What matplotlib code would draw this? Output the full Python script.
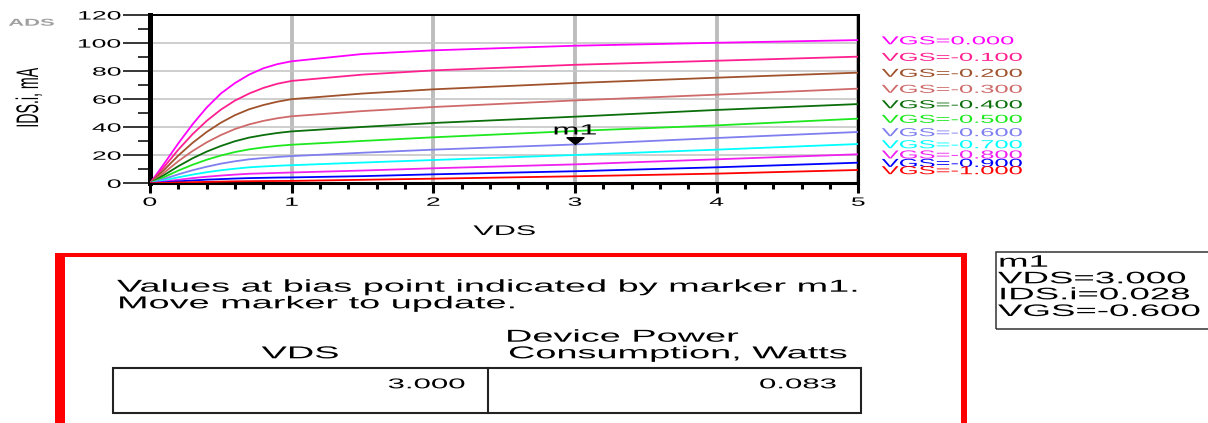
# ADS 仿真结果：FET 的 IDS-VDS 输出特性曲线族 + 偏置点功耗表
import matplotlib
matplotlib.use('Agg')
import matplotlib.pyplot as plt
from matplotlib.patches import Rectangle
from matplotlib.lines import Line2D
from matplotlib.path import Path
from matplotlib.patheffects import AbstractPathEffect
from matplotlib.transforms import Affine2D, ScaledTranslation
from matplotlib.ticker import MultipleLocator

plt.rcParams['font.family'] = ['Liberation Sans', 'DejaVu Sans']

# 扫描数据 (VDS 单位 V, IDS 单位 mA)
vds = [0, 0.1, 0.2, 0.3, 0.4, 0.5, 0.6, 0.7, 0.8, 0.9, 1.0, 1.5, 2.0, 3.0, 4.0, 5.0]
vgs = [0.0, -0.1, -0.2, -0.3, -0.4, -0.5, -0.6, -0.7, -0.8, -0.9, -1.0]
ids_0 = [0, 14, 28.5, 42, 54, 64, 71.5, 77.5, 82, 85, 87, 92.2, 94.8, 98.1, 100.2, 102.1]
ids_1 = [0, 11.7, 24, 35, 44.5, 52.5, 59, 64, 68, 71, 73, 77.5, 80.5, 84.5, 87.4, 90.3]
ids_2 = [0, 9.6, 19.8, 28.8, 36.6, 43.2, 48.6, 52.8, 55.8, 58.2, 60, 64, 67, 71.5, 75.3, 78.9]
ids_3 = [0, 7.6, 15.8, 23, 29.2, 34.4, 38.7, 42, 44.5, 46.4, 47.8, 51.5, 54.4, 59.1, 63.2, 67.5]
ids_4 = [0, 5.9, 12.2, 17.8, 22.6, 26.6, 30, 32.6, 34.4, 35.9, 37, 40.2, 43, 47.5, 52.3, 56.5]
ids_5 = [0, 4.4, 9.1, 13.2, 16.8, 19.8, 22.3, 24.2, 25.6, 26.7, 27.5, 30.2, 32.8, 37.3, 41.3, 46.1]
ids_6 = [0, 3.1, 6.4, 9.3, 11.8, 14, 15.7, 17.1, 18, 18.8, 19.4, 21.8, 24, 27.7, 32.3, 36.6]
ids_7 = [0, 2.1, 4.3, 6.2, 7.9, 9.3, 10.4, 11.4, 12, 12.5, 12.9, 14.8, 16.6, 20.2, 24, 28]
ids_8 = [0, 1.2, 2.5, 3.7, 4.7, 5.5, 6.2, 6.8, 7.1, 7.4, 7.7, 9.1, 10.7, 13.5, 17.1, 20.7]
ids_9 = [0, 0.7, 1.4, 2, 2.6, 3, 3.4, 3.7, 3.9, 4.1, 4.2, 5.1, 6.4, 8.6, 11.4, 14.7]
ids_10 = [0, 0.3, 0.6, 0.8, 1, 1.2, 1.4, 1.5, 1.6, 1.65, 1.7, 2.5, 3.3, 5, 6.9, 9.5]
curves = [ids_0, ids_1, ids_2, ids_3, ids_4, ids_5, ids_6, ids_7, ids_8, ids_9, ids_10]
colors = ['#ff00ff', '#ff2090', '#a0522d', '#cf6a6a', '#0a6e0a', '#1ee81e',
          '#7f7ff0', '#00ffff', '#f020f0', '#0000ff', '#ff0000']

# 标记 m1 所在的偏置点
m1_vds = 3.0
m1_vgs = -0.6
m1_ids = curves[vgs.index(m1_vgs)][vds.index(m1_vds)]  # mA
m1_power = m1_vds * m1_ids / 1000  # W

W, H = 1208, 423
SX = 2.2  # ADS 导出的文字横向拉伸比例


class Widen(AbstractPathEffect):
    """以文字锚点为中心横向拉伸"""
    def __init__(self, text, sx=SX):
        super().__init__()
        self.text = text
        self.sx = sx

    def draw_path(self, renderer, gc, tpath, affine, rgbFace=None):
        cx = self.text.get_transform().transform(self.text.get_position())[0]
        stretch = Affine2D().translate(-cx, 0).scale(self.sx, 1).translate(cx, 0)
        renderer.draw_path(gc, tpath, affine + stretch, rgbFace)


def widen(t, sx=SX):
    t.set_path_effects([Widen(t, sx)])
    return t


def fx(px):
    return px / W


def fy(py):
    return 1 - py / H


fig = plt.figure(figsize=(W / 100, H / 100), dpi=100)
ax = fig.add_axes([fx(150), fy(183.3), (858.3 - 150) / W, (183.3 - 15) / H])

for ids, c in zip(curves, colors):
    ax.plot(vds, ids, color=c, lw=1.3, solid_joinstyle='round', zorder=3)

ax.set_xlim(0, 5)
ax.set_ylim(0, 120)
ax.xaxis.set_major_locator(MultipleLocator(1))
ax.xaxis.set_minor_locator(MultipleLocator(0.2))
ax.yaxis.set_major_locator(MultipleLocator(20))
ax.yaxis.set_minor_locator(MultipleLocator(10))

# 网格：竖线粗、横线细
ax.set_axisbelow(True)
ax.xaxis.grid(True, color='#bdbdbd', lw=2.8)
ax.yaxis.grid(True, color='#c6c6c6', lw=1.2)

ax.spines['left'].set_linewidth(3.6)
ax.spines['bottom'].set_linewidth(2.2)
ax.spines['top'].set_linewidth(1.4)
ax.spines['right'].set_linewidth(2.2)

ax.tick_params(axis='y', which='major', direction='out', length=19.4, width=1.1,
               pad=0.8, labelsize=8.7)
ax.tick_params(axis='y', which='minor', direction='out', length=8.6, width=1.1)
ax.tick_params(axis='x', which='major', direction='out', length=7.2, width=2.2,
               pad=2.5, labelsize=8.7)
ax.tick_params(axis='x', which='minor', direction='out', length=4.3, width=2.2)

for t in ax.get_xticklabels() + ax.get_yticklabels():
    widen(t)

ax.set_xlabel('VDS', fontsize=10, va='baseline')
ax.xaxis.set_label_coords(0.5008, -0.307)
widen(ax.xaxis.label)
ax.set_ylabel('IDS.i, mA', fontsize=10.2, va='center')
ax.yaxis.set_label_coords(-0.1705, 0.507)
widen(ax.yaxis.label)

# 曲线右端的 VGS 标签
for v, ids, c in zip(vgs, curves, colors):
    off = ScaledTranslation(0.234, -0.042, fig.dpi_scale_trans)
    t = ax.text(vds[-1], ids[-1], f'VGS={v:.3f}', color=c, fontsize=8.35,
                ha='left', va='baseline', transform=ax.transData + off, clip_on=False)
    widen(t)

# 标记 m1（倒三角，尖端在偏置点上）
tri = Path([(-1, 0.8), (1, 0.8), (0, 0), (-1, 0.8)],
           [Path.MOVETO, Path.LINETO, Path.LINETO, Path.CLOSEPOLY])
ax.plot([m1_vds], [m1_ids], marker=tri, ms=12.2, color='black', ls='none',
        zorder=5, clip_on=False)
t = ax.text(m1_vds, m1_ids, 'm1', fontsize=10.6, ha='center', va='baseline',
            transform=ax.transData + ScaledTranslation(0, 0.10, fig.dpi_scale_trans),
            zorder=6)
widen(t)

# 左上角 ADS 字样
widen(fig.text(fx(31.5), fy(22.7), 'ADS', fontsize=7.2, fontweight='bold',
               color='#a0a0a0', ha='center', va='center'))

# 红色边框面板
red = '#ff0000'
for x0, y0, x1, y1 in [(55, 253.3, 65, 430), (55, 253.3, 967.3, 256.7),
                       (960.5, 253.3, 967.3, 430)]:
    fig.add_artist(Rectangle((fx(x0), fy(y1)), (x1 - x0) / W, (y1 - y0) / H,
                             transform=fig.transFigure, color=red, lw=0))

fs = 12.4
widen(fig.text(fx(117), fy(291.7), 'Values at bias point indicated by marker m1.',
               fontsize=fs, ha='left', va='baseline'))
widen(fig.text(fx(117), fy(308.3), 'Move marker to update.',
               fontsize=fs, ha='left', va='baseline'))
widen(fig.text(fx(300.5), fy(358.3), 'VDS', fontsize=fs, ha='center', va='baseline'))
widen(fig.text(fx(505), fy(341.7), 'Device Power', fontsize=fs, ha='left', va='baseline'))
widen(fig.text(fx(508), fy(358.3), 'Consumption, Watts', fontsize=fs,
               ha='left', va='baseline'))

# 表格
fig.add_artist(Rectangle((fx(113.3), fy(413.3)), (861 - 113.3) / W, (413.3 - 367.7) / H,
                         transform=fig.transFigure, fill=False, ec='#222222', lw=1.5))
fig.add_artist(Line2D([fx(487.7), fx(487.7)], [fy(367.7), fy(413.3)],
                      transform=fig.transFigure, color='#222222', lw=1.5))
widen(fig.text(fx(464.3), fy(388.3), f'{m1_vds:.3f}', fontsize=10.2,
               ha='right', va='baseline'))
widen(fig.text(fx(836), fy(388.3), f'{m1_power:.3f}', fontsize=10.2,
               ha='right', va='baseline'))

# 标记读数框
fig.add_artist(Rectangle((fx(995.7), fy(329.3)), (1215 - 995.7) / W, (329.3 - 251.7) / H,
                         transform=fig.transFigure, fill=False, ec='#333333', lw=1.1))
box_lines = ['m1', f'VDS={m1_vds:.3f}', f'IDS.i={m1_ids / 1000:.3f}', f'VGS={m1_vgs:.3f}']
for s, py in zip(box_lines, [266.7, 283.3, 299.3, 316]):
    widen(fig.text(fx(998), fy(py), s, fontsize=12, ha='left', va='baseline'))

fig.savefig('out.png', dpi=100)
